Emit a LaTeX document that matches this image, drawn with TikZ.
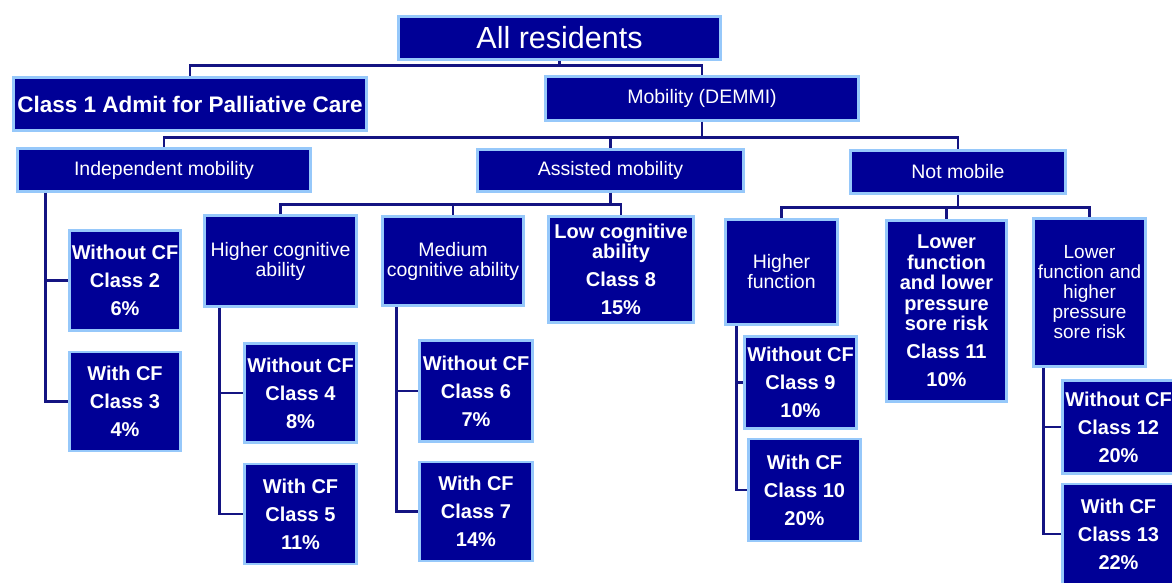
\documentclass[tikz,border=0pt]{standalone}
\usepackage{fontspec}
\setmainfont{Liberation Sans}
\usetikzlibrary{positioning}
\definecolor{boxfill}{RGB}{0,0,150}
\definecolor{boxedge}{RGB}{150,200,250}
\definecolor{linkblue}{RGB}{20,20,130}
\tikzset{box/.style={draw=boxedge, fill=boxfill, line width=2.5pt, text=white, inner sep=0pt, align=center, font=\fontsize{19.5}{20}\selectfont},
  leaf/.style={box, font=\bfseries\fontsize{20}{28}\selectfont},
  wh/.style 2 args={minimum width=#1pt, minimum height=#2pt},
  link/.style={draw=linkblue, line width=2.6pt}}

\begin{document}
\begin{tikzpicture}[x=1pt, y=-1pt]
\useasboundingbox (0,0) rectangle (1172,582);
\clip (0,0) rectangle (1172,582);
% top levels
\node (all) [box, wh={322}{43}, font=\fontsize{30.5}{32}\selectfont] at (559.5,38) {All residents};
\node (cls1) [box, wh={353}{53}, font=\bfseries\fontsize{22.5}{24}\selectfont] at (190,104) {Class 1 Admit for Palliative Care};
\node (mob) [box, wh={313}{44}] at (702,98.5) {Mobility (DEMMI)};
\node (ind) [box, wh={293}{43}] at (164,170) {Independent mobility};
\node (ast) [box, wh={266}{42}] at (610.5,170.5) {Assisted mobility};
\node (notm) [box, wh={215}{43}] at (958,172) {Not mobile};
% independent mobility
\node (c2) [leaf, wh={111}{100}] at (125,280.5) {Without CF\\Class 2\\6\%};
\node (c3) [leaf, wh={111}{99}, below=19pt of c2] {With CF\\Class 3\\4\%};
% assisted mobility
\node (hcog) [box, wh={152}{91}] at (280.5,261) {Higher cognitive\\ability};
\node (mcog) [box, wh={141}{89}] at (453,261) {Medium\\cognitive ability};
\node (c8) [leaf, wh={145}{106}, font=\bfseries\fontsize{20}{20.5}\selectfont] at (621,269.5) {Low cognitive\\ability\\[7.5pt]Class 8\\[7.5pt]15\%};
\node (c4) [leaf, wh={112}{99}] at (300.5,393) {Without CF\\Class 4\\8\%};
\node (c5) [leaf, wh={112}{100}, below=19pt of c4] {With CF\\Class 5\\11\%};
\node (c6) [leaf, wh={113}{101}] at (476,391) {Without CF\\Class 6\\7\%};
\node (c7) [leaf, wh={113}{99}, below=18pt of c6] {With CF\\Class 7\\14\%};
% not mobile
\node (hfun) [box, wh={112}{105}] at (781.5,272) {Higher\\function};
\node (c11) [leaf, wh={120}{181}, font=\bfseries\fontsize{20}{20.5}\selectfont] at (946.5,311) {Lower\\function\\and lower\\pressure\\sore risk\\[7.5pt]Class 11\\[7.5pt]10\%};
\node (lfun) [box, wh={112}{148}, font=\fontsize{19}{20}\selectfont] at (1089.5,292.5) {Lower\\function and\\higher\\pressure\\sore risk};
\node (c9) [leaf, wh={112}{92}] at (800.5,382.5) {Without CF\\Class 9\\10\%};
\node (c10) [leaf, wh={112}{102}, below=8pt of c9, xshift=4pt] {With CF\\Class 10\\20\%};
\node (c12) [leaf, wh={112}{93}] at (1118.5,427) {Without CF\\Class 12\\20\%};
\node (c13) [leaf, wh={112}{100}, below=8pt of c12] {With CF\\Class 13\\22\%};
% connectors
\draw[link] (all.south) -- ++(0,5) -| (cls1.north);
\draw[link] (all.south) -- ++(0,5) -| (mob.north);
\foreach \n in {ind,ast,notm}
  \draw[link] (mob.south) -- ++(0,16) -| (\n.north);
\foreach \n in {hcog,mcog,c8}
  \draw[link] (ast.south) -- ++(0,12) -| (\n.north);
\foreach \n in {hfun,c11,lfun}
  \draw[link] (notm.south) -- ++(0,13) -| (\n.north);
\draw[link] ([xshift=29pt]ind.south west) |- (c2.west);
\draw[link] ([xshift=29pt]ind.south west) |- (c3.west);
\draw[link] ([xshift=16pt]hcog.south west) |- (c4.west);
\draw[link] ([xshift=16pt]hcog.south west) |- (c5.west);
\draw[link] ([xshift=15pt]mcog.south west) |- (c6.west);
\draw[link] ([xshift=15pt]mcog.south west) |- (c7.west);
\draw[link] ([xshift=12pt]hfun.south west) |- (c9.west);
\draw[link] ([xshift=12pt]hfun.south west) |- (c10.west);
\draw[link] ([xshift=11pt]lfun.south west) |- (c12.west);
\draw[link] ([xshift=11pt]lfun.south west) |- (c13.west);
\end{tikzpicture}
\end{document}
